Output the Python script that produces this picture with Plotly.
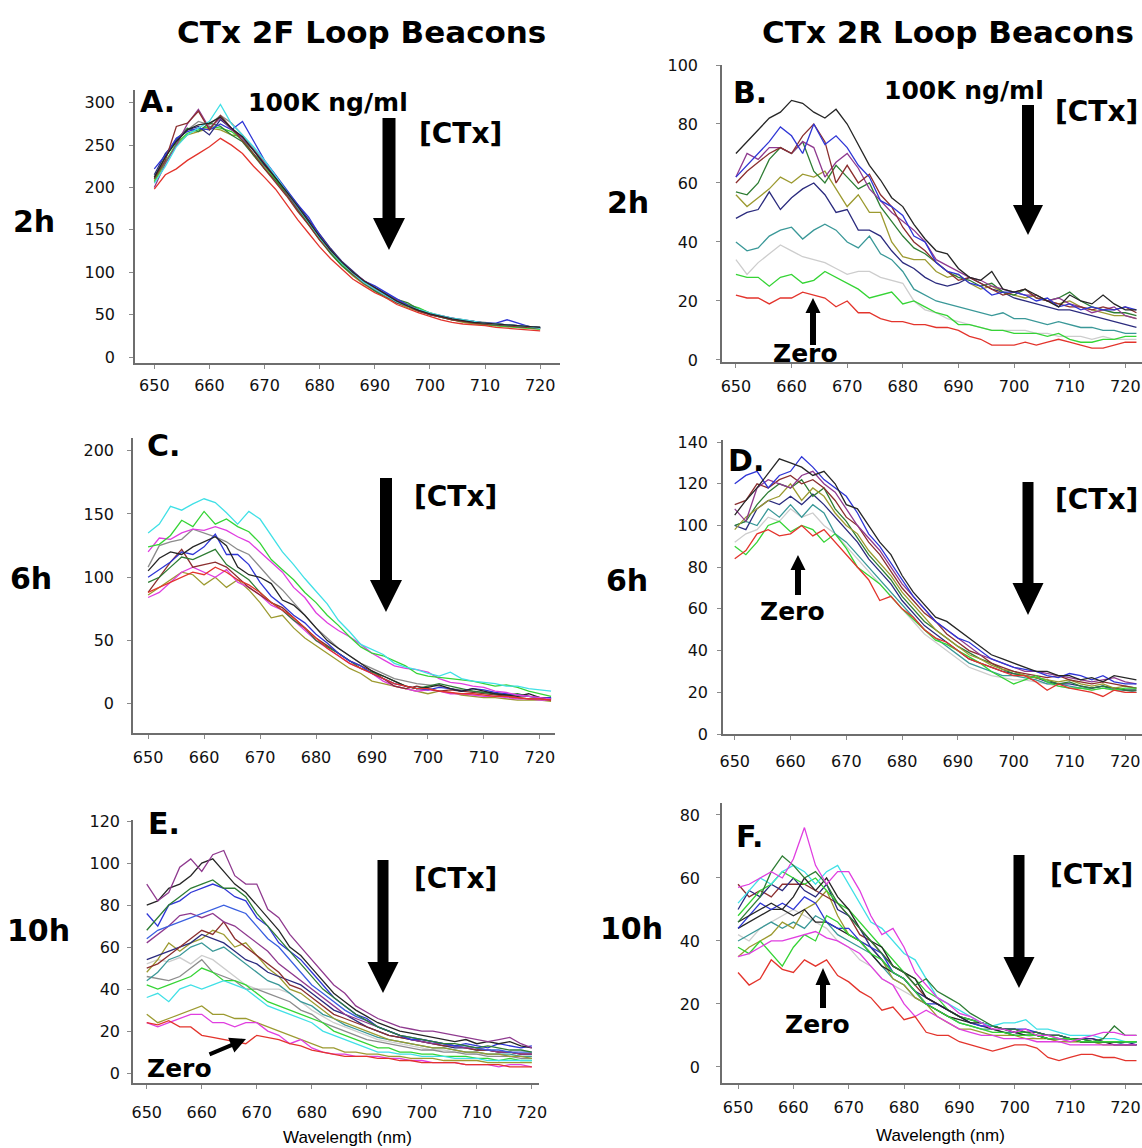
import plotly.graph_objects as go

W, H = 1142, 1148

# ---------------- data ----------------
WL_SHORT = [650, 652, 654, 656, 658, 660, 662, 664, 666, 668, 670, 672, 674, 676, 678, 680, 682, 684,
            686, 688, 690, 692, 694, 696, 698, 700, 702, 704, 706, 708, 710, 712, 714, 716, 718, 720]
WL_LONG = [650, 652, 654, 656, 658, 660, 662, 664, 666, 668, 670, 672, 674, 676, 678, 680, 682, 684,
           686, 688, 690, 692, 694, 696, 698, 700, 702, 704, 706, 708, 710, 712, 714, 716, 718, 720, 722]

# Panel A (2F, 2h)
A_RED = [198, 215, 222, 232, 240, 248, 258, 250, 240, 225, 212, 198, 180, 162, 146, 130, 116, 104, 92, 84,
         76, 70, 62, 57, 52, 48, 44, 41, 39, 38, 37, 35, 34, 33, 32, 31]
A_CYAN = [205, 225, 248, 262, 270, 278, 298, 275, 262, 248, 232, 214, 196, 178, 160, 141, 125, 111, 99, 88,
          80, 72, 65, 60, 56, 52, 49, 46, 44, 42, 40, 39, 38, 37, 36, 34]
A_BLUE = [222, 238, 258, 266, 270, 268, 275, 268, 278, 255, 232, 215, 198, 180, 165, 144, 126, 112, 100, 90,
          84, 76, 68, 61, 55, 50, 48, 45, 43, 41, 40, 40, 44, 40, 36, 34]
A_PURPLE = [200, 228, 250, 275, 292, 270, 282, 268, 258, 244, 228, 214, 194, 176, 160, 142, 126, 112, 100, 90,
            81, 73, 67, 60, 55, 51, 49, 46, 44, 42, 40, 39, 38, 37, 36, 34]
A_BROWN = [210, 232, 272, 276, 290, 268, 285, 270, 255, 240, 222, 206, 190, 172, 156, 138, 124, 112, 98, 87,
           80, 72, 64, 60, 54, 50, 47, 44, 42, 40, 39, 38, 37, 36, 35, 34]
A_GREEN = [208, 230, 252, 264, 268, 272, 270, 266, 256, 240, 226, 210, 194, 176, 158, 141, 124, 110, 98, 88,
           79, 72, 66, 62, 58, 52, 48, 45, 42, 40, 38, 37, 36, 35, 34, 33]
A_DKGREEN = [212, 236, 256, 270, 266, 276, 272, 262, 254, 238, 222, 208, 192, 174, 156, 139, 122, 108, 97, 87,
             78, 70, 68, 64, 56, 50, 47, 44, 42, 41, 39, 38, 37, 36, 35, 35]
A_OLIVE = [206, 230, 250, 262, 266, 270, 268, 262, 260, 238, 224, 209, 193, 174, 156, 138, 122, 108, 96, 86,
           78, 70, 64, 58, 54, 50, 47, 44, 41, 39, 38, 37, 36, 35, 34, 33]
A_NAVY = [215, 240, 255, 268, 272, 262, 280, 270, 258, 244, 226, 212, 196, 180, 162, 145, 128, 113, 101, 90,
          82, 74, 67, 61, 55, 51, 48, 46, 43, 42, 40, 39, 38, 37, 36, 35]
A_GRAY = [210, 235, 258, 268, 278, 274, 285, 276, 262, 246, 230, 214, 196, 178, 160, 142, 126, 112, 100, 90,
          82, 75, 68, 62, 57, 52, 49, 46, 44, 42, 41, 39, 38, 37, 36, 35]
A_BLACK = [212, 236, 254, 268, 274, 276, 283, 270, 260, 244, 228, 212, 195, 178, 160, 142, 126, 112, 100, 90,
           82, 74, 66, 60, 55, 51, 48, 45, 43, 41, 40, 39, 38, 37, 36, 35]

# Panel B (2R, 2h)
B_BLACK = [70, 74, 78, 82, 84, 88, 87, 84, 82, 85, 80, 73, 66, 61, 55, 52, 46, 41, 37, 36,
           31, 28, 27, 30, 24, 23, 24, 22, 20, 18, 22, 20, 19, 22, 19, 17, 17]
B_BLUE = [62, 66, 70, 74, 79, 76, 70, 80, 73, 76, 72, 66, 62, 54, 52, 49, 42, 40, 33, 30,
          29, 26, 25, 22, 23, 23, 22, 20, 21, 18, 19, 17, 18, 17, 17, 18, 17]
B_BROWN = [60, 64, 67, 70, 72, 70, 76, 80, 74, 60, 66, 60, 63, 56, 52, 45, 40, 37, 33, 30,
           27, 28, 26, 24, 22, 23, 24, 21, 20, 19, 18, 18, 17, 18, 17, 18, 16]
B_PURPLE = [62, 70, 68, 72, 72, 70, 74, 72, 62, 67, 70, 65, 58, 54, 50, 47, 44, 40, 34, 32,
            30, 28, 27, 25, 24, 23, 22, 22, 20, 21, 19, 18, 16, 17, 18, 15, 14]
B_DKGREEN = [57, 56, 60, 68, 72, 70, 74, 64, 60, 66, 62, 58, 60, 52, 47, 42, 38, 36, 33, 30,
             28, 27, 25, 26, 23, 22, 24, 21, 20, 21, 23, 20, 18, 17, 16, 16, 15]
B_OLIVE = [56, 52, 55, 58, 62, 60, 63, 62, 64, 58, 52, 56, 50, 50, 40, 35, 34, 34, 30, 28,
           29, 26, 24, 25, 23, 22, 21, 22, 20, 19, 20, 18, 17, 16, 15, 15, 14]
B_NAVY = [48, 50, 51, 57, 51, 55, 58, 60, 56, 50, 51, 44, 44, 42, 37, 33, 31, 28, 26, 25,
          26, 28, 26, 24, 23, 21, 20, 19, 18, 17, 17, 16, 15, 14, 13, 12, 11]
B_TEAL = [40, 37, 38, 42, 44, 45, 41, 44, 46, 44, 40, 38, 42, 36, 34, 30, 24, 22, 20, 19,
          18, 17, 16, 15, 16, 14, 14, 13, 12, 13, 12, 11, 11, 10, 10, 9, 9]
B_LTGRAY = [34, 29, 33, 36, 39, 37, 35, 34, 33, 31, 29, 30, 30, 28, 27, 26, 20, 17, 16, 14,
            13, 12, 11, 10, 10, 10, 10, 9, 9, 8, 8, 8, 7, 8, 7, 7, 7]
B_LTGREEN = [29, 28, 28, 25, 28, 29, 26, 27, 30, 28, 26, 24, 21, 22, 23, 19, 20, 18, 16, 15,
             12, 12, 11, 10, 10, 9, 9, 9, 8, 9, 7, 6, 6, 7, 7, 8, 8]
B_RED = [22, 21, 21, 19, 21, 21, 23, 22, 21, 18, 20, 16, 16, 14, 13, 13, 12, 12, 11, 11,
         10, 8, 7, 5, 5, 5, 6, 5, 6, 7, 6, 5, 4, 4, 5, 6, 6]

# Panel C (2F, 6h)
C_CYAN = [135, 142, 156, 153, 158, 162, 159, 151, 142, 152, 146, 133, 120, 110, 99, 89, 79, 66, 57, 47,
          43, 39, 32, 29, 27, 24, 22, 25, 20, 18, 17, 16, 14, 14, 12, 11, 10]
C_GREEN = [124, 126, 133, 145, 140, 152, 142, 146, 140, 136, 127, 114, 106, 98, 88, 80, 70, 62, 53, 45,
           40, 38, 34, 30, 24, 22, 21, 20, 19, 18, 16, 14, 15, 13, 10, 8, 6]
C_MAGENTA = [120, 131, 130, 135, 138, 137, 140, 137, 132, 128, 120, 112, 104, 92, 84, 72, 64, 58, 53, 47,
             40, 35, 30, 28, 27, 25, 20, 17, 16, 14, 13, 10, 9, 7, 6, 5, 4]
C_GRAY = [108, 125, 128, 130, 138, 135, 132, 128, 122, 118, 108, 98, 90, 80, 70, 60, 52, 44, 38, 32,
          28, 24, 20, 18, 16, 15, 14, 12, 11, 10, 9, 8, 7, 6, 6, 5, 5]
C_BLACK = [105, 115, 120, 118, 124, 128, 132, 125, 108, 102, 100, 95, 82, 78, 70, 60, 50, 44, 38, 32,
           26, 22, 18, 14, 12, 13, 15, 12, 10, 12, 10, 8, 7, 6, 8, 5, 4]
C_BLUE = [100, 106, 112, 120, 118, 124, 134, 118, 118, 110, 96, 85, 78, 70, 64, 55, 48, 40, 34, 30,
          24, 20, 16, 14, 12, 11, 13, 12, 10, 12, 11, 9, 8, 7, 6, 5, 5]
C_DKGREEN = [96, 100, 108, 116, 114, 118, 122, 110, 104, 98, 88, 80, 74, 66, 60, 50, 45, 40, 34, 28,
             25, 22, 18, 14, 12, 14, 16, 14, 12, 10, 9, 8, 7, 8, 6, 5, 4]
C_BROWN = [88, 100, 112, 122, 108, 110, 112, 108, 100, 92, 86, 80, 76, 68, 60, 52, 46, 40, 34, 30,
           26, 20, 14, 12, 14, 12, 10, 11, 10, 9, 8, 7, 6, 5, 4, 4, 3]
C_RED = [88, 92, 96, 100, 104, 102, 108, 104, 98, 94, 88, 80, 74, 68, 60, 52, 44, 38, 32, 28,
         24, 20, 16, 14, 12, 12, 10, 9, 8, 8, 7, 6, 6, 5, 4, 4, 3]
C_PURPLE = [84, 88, 96, 104, 108, 104, 100, 106, 96, 92, 86, 78, 74, 66, 58, 50, 44, 38, 32, 28,
            24, 18, 14, 12, 10, 11, 10, 8, 8, 7, 6, 6, 5, 4, 4, 3, 3]
C_OLIVE = [86, 92, 98, 104, 102, 94, 100, 92, 98, 90, 80, 68, 70, 60, 52, 46, 40, 34, 28, 24,
           18, 16, 14, 12, 10, 8, 10, 9, 7, 6, 5, 5, 4, 3, 3, 3, 2]

# Panel D (2R, 6h)
D_RED = [84, 88, 96, 98, 95, 96, 100, 95, 98, 92, 86, 80, 74, 64, 66, 60, 56, 50, 46, 44,
         40, 36, 34, 32, 30, 28, 28, 25, 21, 24, 22, 21, 20, 18, 21, 20, 20]
D_LTGREEN = [90, 86, 92, 100, 102, 97, 100, 98, 92, 96, 89, 80, 76, 72, 66, 60, 55, 50, 45, 43,
             40, 37, 34, 30, 27, 24, 26, 28, 25, 23, 22, 22, 21, 22, 21, 22, 22]
D_BLACK = [105, 112, 118, 125, 132, 130, 128, 124, 126, 120, 110, 108, 100, 92, 86, 76, 68, 62, 56, 54,
           50, 46, 42, 38, 36, 34, 32, 30, 30, 28, 28, 26, 27, 25, 28, 27, 26]
D_BLUE = [120, 124, 126, 118, 124, 126, 133, 128, 122, 118, 114, 106, 96, 90, 82, 74, 66, 60, 54, 50,
          46, 44, 40, 36, 34, 32, 31, 30, 28, 27, 29, 28, 26, 28, 25, 24, 24]
D_PURPLE = [108, 102, 118, 122, 120, 118, 124, 126, 120, 116, 108, 100, 94, 88, 80, 72, 66, 60, 54, 50,
            46, 42, 38, 36, 34, 32, 30, 30, 29, 28, 27, 26, 25, 26, 27, 25, 24]
D_BROWN = [110, 112, 120, 118, 122, 124, 120, 122, 118, 112, 104, 100, 92, 86, 78, 70, 64, 58, 54, 48,
           44, 40, 38, 34, 32, 30, 29, 28, 27, 28, 26, 25, 24, 25, 24, 23, 22]
D_OLIVE = [98, 104, 108, 112, 114, 120, 112, 118, 114, 106, 100, 96, 88, 82, 76, 68, 62, 56, 50, 46,
           42, 38, 36, 33, 31, 30, 28, 27, 26, 25, 26, 24, 23, 24, 22, 23, 22]
D_DKGREEN = [100, 102, 110, 116, 120, 118, 122, 114, 118, 108, 102, 94, 86, 80, 74, 66, 60, 54, 50, 46,
             42, 39, 36, 34, 31, 29, 28, 27, 26, 24, 25, 23, 22, 23, 22, 21, 21]
D_NAVY = [100, 98, 108, 112, 110, 114, 110, 115, 110, 104, 98, 92, 84, 78, 72, 64, 58, 52, 48, 44,
          40, 36, 34, 32, 30, 29, 28, 27, 25, 24, 24, 23, 22, 23, 22, 21, 21]
D_TEAL = [100, 102, 100, 108, 104, 110, 104, 110, 106, 96, 92, 86, 80, 74, 68, 62, 56, 50, 46, 42,
          38, 34, 32, 30, 28, 28, 27, 26, 24, 24, 23, 22, 22, 23, 21, 21, 20]
D_LTGRAY = [92, 96, 98, 104, 102, 108, 104, 106, 100, 96, 90, 84, 78, 72, 66, 60, 54, 48, 44, 40,
            36, 32, 30, 28, 27, 26, 26, 25, 24, 23, 22, 22, 21, 22, 21, 20, 20]

# Panel E (2F, 10h)
E_PURPLE = [90, 82, 86, 98, 102, 96, 104, 106, 94, 90, 90, 78, 74, 66, 60, 54, 48, 42, 38, 32,
            29, 26, 24, 22, 21, 20, 20, 19, 18, 17, 16, 15, 16, 17, 14, 12]
E_BLACK = [80, 82, 88, 90, 94, 100, 102, 96, 90, 86, 80, 74, 68, 60, 56, 50, 44, 38, 34, 30,
           27, 24, 22, 20, 19, 18, 17, 16, 15, 16, 14, 15, 14, 15, 13, 12]
E_DKGREEN = [68, 74, 80, 84, 88, 90, 92, 88, 88, 84, 76, 70, 64, 58, 52, 46, 40, 36, 32, 28,
             25, 22, 20, 18, 17, 16, 15, 14, 14, 13, 12, 13, 12, 11, 11, 10]
E_BLUE = [76, 70, 80, 82, 86, 88, 90, 88, 84, 82, 74, 70, 62, 58, 54, 48, 42, 36, 32, 28,
          26, 22, 20, 18, 16, 16, 15, 14, 13, 14, 13, 12, 14, 13, 12, 13]
E_ROYAL = [64, 68, 70, 72, 74, 76, 78, 80, 78, 76, 70, 64, 60, 54, 48, 42, 38, 34, 30, 27,
           25, 22, 20, 18, 17, 16, 15, 14, 13, 13, 12, 11, 11, 10, 10, 10]
E_DKPURPLE = [62, 66, 70, 75, 76, 74, 76, 72, 70, 66, 62, 58, 52, 48, 44, 40, 36, 32, 28, 26,
              24, 22, 20, 18, 16, 15, 14, 14, 13, 12, 12, 11, 10, 10, 9, 9]
E_BROWN = [50, 52, 56, 60, 64, 68, 66, 72, 64, 60, 56, 52, 48, 42, 40, 36, 32, 28, 26, 24,
           22, 20, 18, 17, 16, 15, 14, 13, 13, 12, 11, 11, 10, 10, 9, 9]
E_NAVY = [54, 56, 58, 60, 62, 66, 64, 62, 58, 54, 52, 48, 46, 44, 42, 38, 34, 30, 28, 25,
          22, 20, 18, 17, 16, 15, 14, 13, 12, 12, 11, 11, 10, 10, 9, 9]
E_OLIVE = [48, 54, 62, 58, 62, 64, 68, 66, 60, 62, 56, 50, 46, 40, 38, 34, 30, 26, 24, 22,
           20, 18, 16, 15, 14, 13, 12, 12, 11, 10, 10, 9, 9, 8, 8, 7]
E_TEAL = [44, 48, 54, 56, 60, 62, 58, 60, 56, 52, 48, 44, 42, 38, 34, 32, 28, 26, 23, 21,
          19, 17, 16, 15, 14, 13, 12, 12, 11, 10, 10, 9, 9, 9, 8, 8]
E_LTGRAY = [52, 54, 53, 55, 52, 56, 54, 50, 46, 42, 40, 40, 40, 38, 34, 30, 27, 24, 22, 20,
            18, 16, 15, 14, 13, 12, 11, 11, 10, 10, 9, 9, 9, 8, 8, 8]
E_GRAY = [46, 45, 44, 46, 50, 54, 48, 46, 44, 40, 40, 38, 36, 34, 30, 28, 24, 22, 20, 18,
          16, 15, 14, 13, 12, 11, 11, 10, 10, 9, 9, 8, 8, 8, 7, 7]
E_GREEN = [42, 40, 42, 44, 46, 50, 48, 44, 44, 42, 38, 34, 32, 30, 28, 26, 24, 20, 18, 16,
           14, 12, 12, 10, 10, 9, 9, 8, 8, 8, 7, 7, 6, 7, 6, 6]
E_CYAN = [36, 38, 34, 40, 42, 40, 42, 44, 42, 40, 36, 32, 30, 28, 26, 24, 20, 18, 16, 14,
          12, 10, 10, 9, 9, 8, 8, 8, 7, 7, 7, 6, 6, 6, 6, 6]
E_OLIVE2 = [28, 24, 26, 28, 30, 32, 28, 28, 26, 26, 24, 22, 20, 18, 16, 14, 12, 12, 10, 10,
            9, 9, 8, 8, 7, 7, 7, 6, 6, 6, 6, 5, 5, 5, 5, 5]
E_MAGENTA = [24, 22, 24, 26, 28, 28, 24, 24, 22, 24, 24, 20, 18, 14, 16, 12, 10, 9, 9, 8,
             8, 8, 7, 7, 6, 6, 5, 5, 5, 4, 4, 4, 3, 4, 4, 3]
E_RED = [24, 23, 25, 22, 22, 18, 17, 16, 15, 14, 18, 17, 16, 14, 13, 11, 10, 9, 8, 8,
         8, 7, 7, 6, 6, 5, 5, 5, 5, 4, 4, 4, 4, 3, 3, 3]

# Panel F (2R, 10h)
F_RED = [30, 26, 28, 34, 31, 30, 34, 32, 34, 29, 27, 24, 22, 18, 19, 15, 16, 11, 10, 10,
         8, 7, 6, 5, 6, 7, 7, 6, 3, 2, 3, 4, 4, 3, 3, 2, 2]
F_MAGENTA = [57, 58, 60, 62, 60, 66, 76, 64, 58, 62, 62, 56, 48, 42, 44, 38, 30, 26, 22, 20,
             17, 16, 14, 12, 12, 11, 12, 10, 10, 9, 8, 9, 10, 11, 11, 10, 10]
F_MAGENTA2 = [35, 36, 38, 40, 40, 41, 42, 43, 41, 40, 38, 36, 32, 28, 26, 20, 16, 18, 16, 14,
              12, 11, 10, 10, 9, 9, 9, 8, 8, 8, 7, 7, 7, 7, 7, 7, 7]
F_DKGREEN = [46, 50, 54, 62, 67, 64, 60, 62, 58, 52, 48, 44, 40, 36, 32, 30, 26, 28, 24, 22,
             20, 17, 15, 13, 12, 12, 11, 11, 10, 10, 9, 9, 8, 9, 13, 10, 10]
F_CYAN = [52, 56, 60, 58, 62, 64, 62, 58, 62, 64, 58, 52, 46, 44, 40, 36, 34, 28, 22, 20,
          18, 16, 14, 13, 14, 14, 15, 12, 12, 11, 10, 10, 10, 9, 9, 8, 8]
F_GREEN = [38, 36, 40, 36, 32, 38, 42, 40, 48, 46, 42, 40, 36, 34, 30, 28, 24, 20, 18, 16,
           14, 13, 12, 11, 11, 10, 10, 10, 9, 9, 9, 8, 8, 8, 8, 8, 8]
F_GREEN2 = [48, 52, 56, 58, 62, 60, 58, 60, 56, 52, 50, 46, 42, 38, 34, 30, 28, 24, 22, 18,
            16, 15, 14, 13, 12, 11, 11, 10, 10, 9, 9, 9, 8, 8, 8, 8, 8]
F_BLACK = [46, 48, 50, 52, 50, 54, 60, 56, 60, 54, 50, 44, 40, 38, 32, 30, 28, 22, 20, 18,
           16, 14, 14, 13, 12, 11, 10, 10, 9, 9, 9, 8, 8, 8, 8, 8, 8]
F_BLUE = [44, 48, 52, 50, 52, 50, 54, 52, 46, 44, 44, 40, 38, 36, 30, 28, 24, 20, 20, 18,
          16, 14, 13, 13, 12, 12, 12, 11, 10, 10, 9, 9, 8, 8, 8, 8, 8]
F_NAVY = [50, 56, 54, 58, 56, 60, 56, 54, 58, 50, 48, 44, 38, 34, 30, 28, 24, 22, 20, 18,
          16, 15, 14, 13, 12, 12, 11, 11, 10, 10, 9, 9, 9, 8, 8, 8, 7]
F_BLACK2 = [44, 46, 48, 50, 50, 48, 50, 46, 46, 44, 42, 40, 36, 32, 30, 28, 24, 20, 18, 16,
            15, 14, 13, 12, 11, 10, 10, 10, 9, 9, 9, 8, 8, 8, 7, 7, 7]
F_OLIVE = [35, 38, 40, 42, 46, 44, 50, 52, 56, 48, 42, 40, 38, 34, 28, 26, 22, 20, 16, 14,
           12, 12, 11, 10, 10, 10, 9, 9, 9, 8, 8, 8, 8, 7, 7, 7, 7]
F_GRAY = [42, 40, 44, 46, 48, 50, 48, 46, 44, 40, 38, 34, 32, 28, 26, 24, 22, 20, 18, 16,
          14, 13, 12, 11, 11, 10, 10, 9, 9, 9, 8, 8, 8, 7, 7, 7, 7]
F_TEAL = [40, 42, 44, 46, 44, 46, 44, 48, 46, 42, 40, 38, 36, 32, 28, 26, 22, 20, 18, 16,
          14, 13, 12, 12, 11, 11, 10, 10, 9, 9, 9, 8, 8, 8, 8, 7, 7]
F_BROWN = [58, 54, 56, 54, 58, 58, 58, 56, 54, 52, 48, 42, 40, 36, 32, 30, 26, 22, 20, 18,
           16, 15, 14, 13, 12, 12, 11, 11, 10, 10, 9, 9, 9, 8, 8, 8, 8]

X_TICKS = [650, 660, 670, 680, 690, 700, 710, 720]
Y_TICKS_A = [0, 50, 100, 150, 200, 250, 300]
Y_TICKS_B = [0, 20, 40, 60, 80, 100]
Y_TICKS_C = [0, 50, 100, 150, 200]
Y_TICKS_D = [0, 20, 40, 60, 80, 100, 120, 140]
Y_TICKS_E = [0, 20, 40, 60, 80, 100, 120]
Y_TICKS_F = [0, 20, 40, 60, 80]

# ---------------- styling ----------------
C = {
    "red": "#e3342c", "cyan": "#40e0e6", "blue": "#2f36d6", "royal": "#3a5fe0",
    "purple": "#8f3a8f", "brown": "#8b2f2f", "green": "#35d435", "dkgreen": "#2e7d34",
    "olive": "#9c9a30", "navy": "#2b2b7e", "gray": "#8c8c8c", "ltgray": "#cdcdcd",
    "black": "#262626", "teal": "#3a9898", "magenta": "#e03ee0",
}

PANELS = [
    dict(x=WL_SHORT, xdom=(135, 560), ydom=(90, 363), xr=[646.5, 723.6], yr=[-7, 315], yt=Y_TICKS_A,
         ystand=11, xstand=3,
         series=[(A_GRAY, "gray"), (A_OLIVE, "olive"), (A_GREEN, "green"), (A_DKGREEN, "dkgreen"),
                 (A_NAVY, "navy"), (A_BLUE, "blue"), (A_PURPLE, "purple"), (A_BROWN, "brown"),
                 (A_CYAN, "cyan"), (A_BLACK, "black"), (A_RED, "red")]),
    dict(x=WL_LONG, xdom=(722, 1142), ydom=(65, 362), xr=[647.5, 723.0], yr=[-0.7, 100], yt=Y_TICKS_B,
         ystand=15, xstand=5,
         series=[(B_LTGRAY, "ltgray"), (B_TEAL, "teal"), (B_NAVY, "navy"), (B_OLIVE, "olive"),
                 (B_DKGREEN, "dkgreen"), (B_PURPLE, "purple"), (B_BROWN, "brown"), (B_BLUE, "blue"),
                 (B_BLACK, "black"), (B_LTGREEN, "green"), (B_RED, "red")]),
    dict(x=WL_LONG, xdom=(133, 555), ydom=(438, 733), xr=[647.3, 722.7], yr=[-23, 210], yt=Y_TICKS_C,
         ystand=10, xstand=5,
         series=[(C_GRAY, "gray"), (C_OLIVE, "olive"), (C_PURPLE, "magenta"), (C_BROWN, "brown"),
                 (C_DKGREEN, "dkgreen"), (C_BLUE, "blue"), (C_BLACK, "black"), (C_MAGENTA, "magenta"),
                 (C_GREEN, "green"), (C_CYAN, "cyan"), (C_RED, "red")]),
    dict(x=WL_LONG, xdom=(723, 1142), ydom=(440, 734), xr=[647.9, 723.0], yr=[0, 141], yt=Y_TICKS_D,
         ystand=6, xstand=8,
         series=[(D_LTGRAY, "ltgray"), (D_TEAL, "teal"), (D_NAVY, "navy"), (D_DKGREEN, "dkgreen"),
                 (D_OLIVE, "olive"), (D_BROWN, "brown"), (D_PURPLE, "purple"), (D_BLUE, "blue"),
                 (D_BLACK, "black"), (D_LTGREEN, "green"), (D_RED, "red")]),
    dict(x=WL_SHORT, xdom=(133, 539), ydom=(820, 1083), xr=[647.5, 721.3], yr=[-4.7, 120.5], yt=Y_TICKS_E,
         ystand=4, xstand=10,
         series=[(E_LTGRAY, "ltgray"), (E_GRAY, "gray"), (E_TEAL, "teal"), (E_OLIVE, "olive"),
                 (E_NAVY, "navy"), (E_BROWN, "brown"), (E_DKPURPLE, "purple"), (E_ROYAL, "royal"),
                 (E_BLUE, "blue"), (E_DKGREEN, "dkgreen"), (E_BLACK, "black"), (E_PURPLE, "purple"),
                 (E_GREEN, "green"), (E_CYAN, "cyan"), (E_OLIVE2, "olive"), (E_MAGENTA, "magenta"),
                 (E_RED, "red")]),
    dict(x=WL_LONG, xdom=(722, 1142), ydom=(803, 1083), xr=[647.1, 723.0], yr=[-5.1, 83.8], yt=Y_TICKS_F,
         ystand=13, xstand=5,
         series=[(F_GRAY, "ltgray"), (F_TEAL, "teal"), (F_OLIVE, "olive"), (F_BLACK2, "black"),
                 (F_BROWN, "brown"), (F_NAVY, "navy"), (F_BLUE, "blue"), (F_GREEN2, "green"),
                 (F_BLACK, "black"), (F_CYAN, "cyan"), (F_DKGREEN, "dkgreen"), (F_GREEN, "green"),
                 (F_MAGENTA2, "magenta"), (F_MAGENTA, "magenta"), (F_RED, "red")]),
]


def PX(x):
    return min(1.0, max(0.0, x / W))


def PY(y):
    return min(1.0, max(0.0, 1 - y / H))


fig = go.Figure()
layout = dict(width=W, height=H, margin=dict(l=0, r=0, t=0, b=0, pad=0, autoexpand=False),
              paper_bgcolor="white", plot_bgcolor="white", showlegend=False)

TICKFONT = dict(family="DejaVu Sans", size=16, color="#111111")
for i, p in enumerate(PANELS, start=1):
    sx = "" if i == 1 else str(i)
    for vals, cname in p["series"]:
        fig.add_trace(go.Scatter(x=p["x"], y=vals, mode="lines", line=dict(color=C[cname], width=1.3),
                                 xaxis="x" + sx, yaxis="y" + sx, hoverinfo="skip"))
    layout["xaxis" + sx] = dict(domain=[PX(p["xdom"][0]), PX(p["xdom"][1])], range=p["xr"],
                                anchor="y" + sx, tickvals=X_TICKS, showline=True, linecolor="#6e6e6e",
                                linewidth=1.5, ticks="outside", ticklen=4, tickcolor="#8a8a8a",
                                showgrid=False, zeroline=False, tickfont=TICKFONT, automargin=False,
                                ticklabeloverflow="allow", ticklabelstandoff=p["xstand"])
    layout["yaxis" + sx] = dict(domain=[PY(p["ydom"][1]), PY(p["ydom"][0])], range=p["yr"],
                                anchor="x" + sx, tickvals=p["yt"], showline=True, linecolor="#6e6e6e",
                                linewidth=1.5, ticks="outside", ticklen=4, tickcolor="#8a8a8a",
                                showgrid=False, zeroline=False, tickfont=TICKFONT, automargin=False,
                                ticklabeloverflow="allow", ticklabelstandoff=p["ystand"])

ann = []


def text(t, x, y, size, family="DejaVu Sans", bold=True):
    ann.append(dict(text=("<b>%s</b>" % t) if bold else t, x=PX(x), y=PY(y), xref="paper", yref="paper",
                    xanchor="center", yanchor="middle", showarrow=False,
                    font=dict(family=family, size=size, color="black")))


text("CTx 2F Loop Beacons", 361, 32, 31)
text("CTx 2R Loop Beacons", 948, 32, 31)
for t, x, y in [("2h", 34, 222), ("6h", 31, 578), ("10h", 39, 930),
                ("2h", 628, 203), ("6h", 627, 580), ("10h", 631, 928)]:
    text(t, x, y, 30)
for t, x, y in [("A.", 157, 101), ("B.", 750, 92), ("C.", 164, 445),
                ("D.", 746, 460), ("E.", 164, 823), ("F.", 749, 836)]:
    text(t, x, y, 30)
text("100K ng/ml", 328, 102, 25)
text("100K ng/ml", 964, 90, 25)
for x, y in [(460, 133), (1096, 112), (456, 497), (1096, 499), (455, 878), (1091, 874)]:
    text("[CTx]", x, y, 28)
for x, y in [(805, 353), (792, 612), (817, 1024), (180, 1068)]:
    text("Zero", x, y, 25)
text("Wavelength (nm)", 347, 1137, 17, family="Liberation Sans", bold=False)
text("Wavelength (nm)", 940, 1135, 17, family="Liberation Sans", bold=False)

# dashed arrow in panel E
ann.append(dict(text="", x=PX(246), y=PY(1039), xref="paper", yref="paper", showarrow=True,
                ax=-38, ay=16, arrowhead=2, arrowwidth=4, arrowsize=0.8, arrowcolor="black"))

shapes = []


def arrow(cx, top, hs, tip, sw, hw):
    pts = [(cx - sw / 2, top), (cx + sw / 2, top), (cx + sw / 2, hs), (cx + hw / 2, hs), (cx, tip),
           (cx - hw / 2, hs), (cx - sw / 2, hs)]
    path = "M " + " L ".join("%.5f,%.5f" % (PX(a), PY(b)) for a, b in pts) + " Z"
    shapes.append(dict(type="path", path=path, xref="paper", yref="paper", fillcolor="black",
                       line=dict(width=0)))


for args in [(389, 118, 218, 250, 13, 32), (1028, 105, 205, 235, 12, 30), (386, 478, 580, 612, 12, 32),
             (1028, 482, 583, 615, 11, 31), (383, 860, 962, 993, 11, 31), (1019, 855, 957, 988, 11, 31)]:
    arrow(*args)
# small "Zero" arrows (pointing up)
for cx, tip, he, bottom in [(813, 298, 313, 345), (798, 555, 570, 595), (823, 968, 985, 1008)]:
    arrow(cx, bottom, he, tip, 6, 15)

layout["annotations"] = ann
layout["shapes"] = shapes
fig.update_layout(**layout)
fig.write_html("out.html", config={"displayModeBar": False},
               post_script="document.body.style.margin='0';document.body.style.overflow='hidden';"
                           "document.documentElement.style.overflow='hidden';")
